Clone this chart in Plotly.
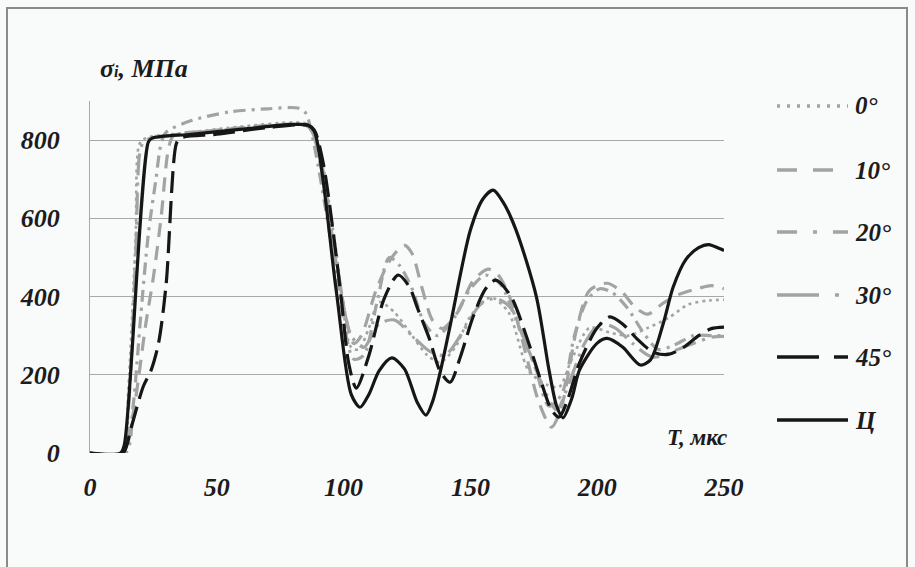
import plotly.graph_objects as go

# ---------------- data ----------------
t_c = [0, 12, 13.5, 23, 24.5, 40, 60, 80, 86, 88.5, 97, 103, 106.5, 110, 114, 119, 124, 129, 132.5, 135, 138, 142, 150, 155, 159, 163, 168, 176, 181, 184, 186.5, 190, 193, 200, 204, 210, 217, 221, 226, 230, 235, 240, 244, 248.5, 250]
v_c = [0, 0, 20, 795, 805, 815, 828, 840, 838, 822, 420, 150, 117, 150, 210, 243, 215, 130, 97, 130, 204, 325, 570, 650, 672, 640, 570, 400, 212, 120, 90, 140, 212, 281, 293, 271, 225, 238, 330, 425, 495, 525, 533, 522, 518]

t_45 = [0, 13, 16, 21, 24, 27, 30, 34, 35.5, 50, 70, 86, 88.5, 92, 96, 99, 102, 105, 110, 116, 121.5, 126, 129, 134, 138, 142, 146, 151, 156, 160, 166, 172, 178, 182, 185, 188, 193, 200, 205, 210, 216, 222, 228, 234, 240, 245, 250]
v_45 = [0, 0, 60, 170, 210, 280, 430, 790, 805, 815, 832, 838, 825, 740, 560, 400, 230, 166, 250, 395, 455, 424, 373, 289, 210, 181, 245, 347, 420, 442, 400, 300, 180, 110, 92, 130, 230, 320, 348, 330, 290, 258, 252, 270, 300, 318, 322]

t_0 = [0, 13, 15, 18, 19.5, 22, 40, 60, 80, 86, 90, 97, 103, 106, 110, 114, 120, 127, 133, 138, 144, 150, 158, 165, 173, 180, 185, 190, 197, 205, 212, 220, 228, 236, 244, 250]
v_0 = [0, 0, 150, 550, 790, 805, 820, 835, 845, 840, 790, 520, 270, 265, 320, 386, 360, 300, 250, 232, 270, 350, 398, 360, 210, 175, 169, 240, 320, 308, 300, 320, 345, 380, 390, 392]

t_10 = [0, 13, 17, 22, 25, 28, 31, 33, 45, 65, 84, 87, 92, 98, 104, 107, 113, 119, 124, 127, 131, 135, 139, 145, 151, 157, 161, 166, 172, 177, 182, 186, 192, 197, 204, 210, 215, 220, 226, 232, 240, 245, 250]
v_10 = [0, 0, 100, 330, 450, 600, 780, 812, 822, 835, 840, 830, 700, 450, 280, 300, 420, 500, 531, 510, 420, 340, 318, 360, 440, 470, 455, 390, 250, 130, 66, 120, 320, 416, 434, 410, 372, 355, 383, 405, 421, 428, 420]

t_20 = [0, 14, 17, 20, 23, 26, 28, 30, 40, 55, 70, 82, 85, 88, 93, 98, 104, 108, 113, 118, 122, 127, 132, 137, 143, 150, 156, 162, 168, 175, 181, 186, 191, 196, 201, 206, 212, 218, 224, 230, 238, 245, 250]
v_20 = [0, 0, 120, 350, 560, 700, 790, 820, 850, 872, 880, 882, 870, 800, 620, 420, 240, 250, 380, 500, 480, 420, 330, 300, 340, 420, 455, 430, 340, 230, 120, 150, 300, 390, 420, 410, 370, 310, 265, 275, 300, 300, 300]

t_30 = [0, 13, 15, 18, 20, 22, 40, 60, 80, 86, 90, 97, 103, 108, 114, 120, 127, 134, 140, 147, 154, 160, 166, 173, 180, 184, 189, 195, 201, 207, 214, 222, 233, 240, 245, 250]
v_30 = [0, 0, 100, 500, 780, 800, 818, 830, 840, 835, 780, 500, 300, 270, 330, 340, 300, 260, 250, 310, 380, 395, 370, 260, 150, 110, 180, 280, 330, 320, 280, 245, 268, 285, 296, 298]

x_ticks = [0, 50, 100, 150, 200, 250]
y_ticks = [0, 200, 400, 600, 800]
legend_names = ["0°", "10°", "20°", "30°", "45°", "Ц"]

# ---------------- styling ----------------
GRAY = "#a3a3a3"
BLACK = "#161616"
FONT = "Liberation Serif"
TXT = "#1c1c1c"
BG = "#f9fafa"

series = [
    (t_0, v_0, GRAY, 2.6, "3px,4px", "3px,7px"),
    (t_10, v_10, GRAY, 3.2, "14px,9px", "20px,16px"),
    (t_20, v_20, GRAY, 3.2, "12px,6px,3px,6px", "20px,16px,4px,16px"),
    (t_30, v_30, GRAY, 3.2, "22px,7px,3px,7px", "42px,16px,4px,16px"),
    (t_45, v_45, BLACK, 3.2, "22px,8px", "42px,15px"),
    (t_c, v_c, BLACK, 3.2, "solid", "solid"),
]

fig = go.Figure()
for (tt, vv, col, w, dash, _ld), name in zip(series, legend_names):
    fig.add_trace(go.Scatter(
        x=tt, y=vv, mode="lines", name=name, showlegend=False,
        line=dict(color=col, width=w, dash=dash, shape="spline", smoothing=0.8),
    ))

# pixel helpers for layout decorations (plot area: x 90..724, y 101..453)
L, R, T, B = 90, 724, 101, 453
def px(x):
    return (x - L) / (R - L)
def py(y):
    return (B - y) / (B - T)

shapes = []
annotations = []
# outer border
shapes.append(dict(type="rect", xref="paper", yref="paper",
                   x0=px(7), x1=px(907), y0=py(8), y1=py(600),
                   line=dict(color="#8a8a8a", width=2), fillcolor="rgba(0,0,0,0)", layer="below"))

# manual legend
leg_y = [106, 170, 232, 295, 357, 420]
for (tt, vv, col, w, dash, ldash), name, yy in zip(series, legend_names, leg_y):
    shapes.append(dict(type="line", xref="paper", yref="paper",
                       x0=px(777), x1=px(848), y0=py(yy), y1=py(yy),
                       line=dict(color=col, width=3.4, dash=ldash)))
    annotations.append(dict(xref="paper", yref="paper", x=px(853), y=py(yy),
                            xanchor="left", yanchor="middle", showarrow=False,
                            text="<b><i>%s</i></b>" % name,
                            font=dict(family=FONT, size=25, color=TXT)))

# axis titles
annotations.append(dict(xref="paper", yref="paper", x=px(98), y=py(68),
                        xanchor="left", yanchor="middle", showarrow=False,
                        text="<b><i>σ<span style='font-size:16px'>i</span>, МПа</i></b>",
                        font=dict(family=FONT, size=26, color=TXT)))
annotations.append(dict(xref="paper", yref="paper", x=px(729), y=py(437),
                        xanchor="right", yanchor="middle", showarrow=False,
                        text="<b><i>T, мкс</i></b>",
                        font=dict(family=FONT, size=23, color=TXT)))

fig.update_layout(
    width=915, height=567,
    margin=dict(l=L, r=915 - R, t=T, b=567 - B),
    paper_bgcolor=BG, plot_bgcolor=BG,
    font=dict(family=FONT),
    shapes=shapes, annotations=annotations,
    showlegend=False,
    xaxis=dict(range=[0, 250], tickvals=x_ticks,
               ticktext=["<b><i>%d</i></b>" % v for v in x_ticks],
               showgrid=False, zeroline=False,
               showline=False, ticks="", ticklabelstandoff=16,
               tickfont=dict(family=FONT, size=26, color=TXT)),
    yaxis=dict(range=[0, 900], tickvals=y_ticks,
               ticktext=["<b><i>%d</i></b>" % v for v in y_ticks],
               showgrid=True, gridcolor="#a8a8a8",
               gridwidth=1.2, zeroline=False, showline=True, linecolor="#a8a8a8",
               linewidth=1.2, ticks="", ticklabelstandoff=24,
               tickfont=dict(family=FONT, size=26, color=TXT)),
)

fig.write_html("out.html")
